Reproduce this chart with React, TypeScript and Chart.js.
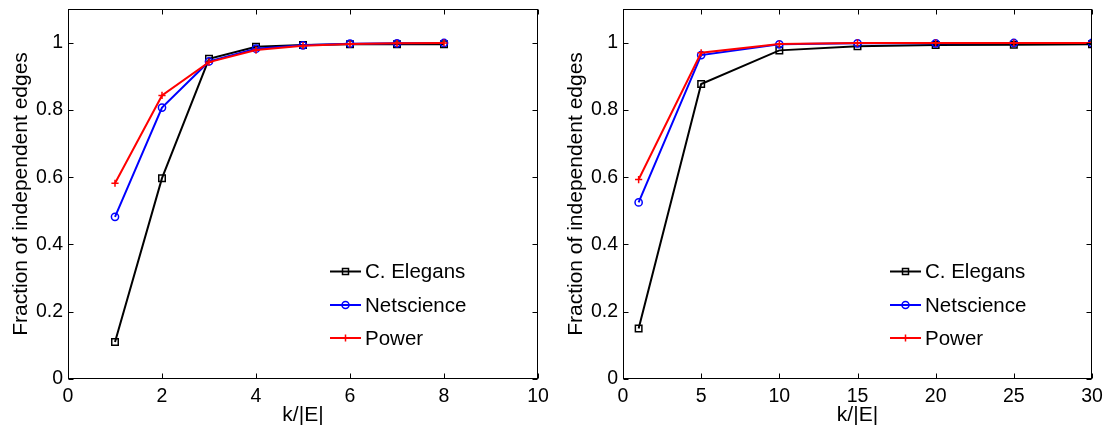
import React, { useEffect, useRef } from "react";
import { Chart, registerables } from "chart.js";

Chart.register(...registerables);

const SERIES_NAMES = ["C. Elegans", "Netscience", "Power"];
const SERIES_COLORS = ["#000000", "#0000ff", "#ff0000"];
const SERIES_MARKERS = ["rect", "circle", "cross"];

// Left panel
const LEFT_X = [1, 2, 3, 4, 5, 6, 7, 8];
const LEFT_ELEGANS = [0.11, 0.597, 0.952, 0.988, 0.993, 0.995, 0.995, 0.995];
const LEFT_NETSCIENCE = [0.482, 0.807, 0.944, 0.982, 0.992, 0.997, 0.998, 0.999];
const LEFT_POWER = [0.582, 0.843, 0.942, 0.978, 0.991, 0.996, 0.998, 0.999];
const LEFT_X_TICKS = [0, 2, 4, 6, 8, 10];

// Right panel
const RIGHT_X = [1, 5, 10, 15, 20, 25, 30];
const RIGHT_ELEGANS = [0.15, 0.877, 0.977, 0.989, 0.993, 0.994, 0.995];
const RIGHT_NETSCIENCE = [0.525, 0.963, 0.995, 0.998, 0.998, 0.999, 0.999];
const RIGHT_POWER = [0.593, 0.97, 0.996, 0.999, 0.999, 0.999, 0.999];
const RIGHT_X_TICKS = [0, 5, 10, 15, 20, 25, 30];

const Y_TICKS = [0, 0.2, 0.4, 0.6, 0.8, 1];
const Y_MAX = 1.1;

const X_TITLE = "k/|E|";
const Y_TITLE = "Fraction of independent edges";

const FONT = "'Liberation Sans', Arial, Helvetica, sans-serif";

const boxPlugin = {
  id: "matlabBox",
  afterDraw(chart: any, _args: any, opts: any) {
    const { ctx, chartArea } = chart;
    const { left, right, top, bottom } = chartArea;
    const xs = chart.scales.x;
    const ys = chart.scales.y;
    ctx.save();
    ctx.strokeStyle = "#000";
    ctx.lineWidth = 1;
    const L = Math.round(left) + 0.5;
    const R = Math.round(right) - 0.5;
    const T = Math.round(top) + 0.5;
    const B = Math.round(bottom) - 0.5;
    ctx.strokeRect(L, T, R - L, B - T);
    const tl = 5;
    ctx.beginPath();
    xs.ticks.forEach((t: any) => {
      const px = Math.round(xs.getPixelForValue(t.value)) + 0.5;
      ctx.moveTo(px, B);
      ctx.lineTo(px, B - tl);
      ctx.moveTo(px, T);
      ctx.lineTo(px, T + tl);
    });
    ys.ticks.forEach((t: any) => {
      const py = Math.round(ys.getPixelForValue(t.value)) + 0.5;
      ctx.moveTo(L, py);
      ctx.lineTo(L + tl, py);
      ctx.moveTo(R, py);
      ctx.lineTo(R - tl, py);
    });
    ctx.stroke();

    // legend inside axes
    const lx = opts.x as number;
    const rows = opts.rows as number[];
    chart.data.datasets.forEach((ds: any, i: number) => {
      const y = rows[i];
      ctx.strokeStyle = ds.borderColor;
      ctx.lineWidth = 2;
      ctx.beginPath();
      ctx.moveTo(lx, y);
      ctx.lineTo(lx + 31, y);
      ctx.stroke();
      const mx = lx + 15.5;
      ctx.lineWidth = 1.5;
      ctx.beginPath();
      if (ds.pointStyle === "rect") {
        ctx.rect(mx - 3, y - 3, 6, 6);
      } else if (ds.pointStyle === "circle") {
        ctx.arc(mx, y, 3.5, 0, Math.PI * 2);
      } else {
        ctx.moveTo(mx - 3.5, y);
        ctx.lineTo(mx + 3.5, y);
        ctx.moveTo(mx, y - 3.5);
        ctx.lineTo(mx, y + 3.5);
      }
      ctx.stroke();
      ctx.fillStyle = "#000";
      ctx.font = `20.5px ${FONT}`;
      ctx.textAlign = "left";
      ctx.textBaseline = "middle";
      ctx.fillText(ds.label, lx + 35, y + 1);
    });
    ctx.restore();
  },
};

function makeDatasets(xv: number[], series: number[][]) {
  return series.map((vals, i) => ({
    label: SERIES_NAMES[i],
    data: xv.map((x, j) => ({ x, y: vals[j] })),
    borderColor: SERIES_COLORS[i],
    backgroundColor: "rgba(0,0,0,0)",
    borderWidth: 2,
    pointStyle: SERIES_MARKERS[i],
    pointRadius: i === 0 ? 4.6 : 3.6,
    pointBorderWidth: 1.5,
    pointBackgroundColor: "rgba(0,0,0,0)",
    pointBorderColor: SERIES_COLORS[i],
    fill: false,
    tension: 0,
    order: 2 - i,
  }));
}

function Panel(props: {
  xv: number[];
  series: number[][];
  xTicks: number[];
  xMax: number;
  legendX: number;
  width: number;
}) {
  const ref = useRef<HTMLCanvasElement | null>(null);
  useEffect(() => {
    if (!ref.current) return;
    const { xv, series, xTicks, xMax, legendX } = props;
    const chart = new Chart(ref.current, {
      type: "line",
      data: { datasets: makeDatasets(xv, series) as any },
      options: {
        animation: false,
        responsive: false,
        events: [],
        layout: { padding: { top: 9, right: 17, left: 0, bottom: 0 } },
        plugins: {
          legend: { display: false },
          tooltip: { enabled: false },
          matlabBox: { x: legendX, rows: [271.5, 305, 338] },
        } as any,
        scales: {
          x: {
            type: "linear",
            min: 0,
            max: xMax,
            grid: { display: false, drawTicks: false },
            border: { display: false },
            afterBuildTicks: (s: any) => {
              s.ticks = xTicks.map((v) => ({ value: v }));
            },
            afterFit: (s: any) => {
              s.height = 49;
              s.paddingLeft = 0;
              s.paddingRight = 0;
              s.paddingTop = 0;
              s.paddingBottom = 0;
            },
            ticks: {
              color: "#000",
              padding: 6,
              maxRotation: 0,
              autoSkip: false,
              font: { family: FONT, size: 19.5 },
            },
            title: {
              display: true,
              text: X_TITLE,
              color: "#000",
              font: { family: FONT, size: 21, lineHeight: 1.2 },
              padding: { top: 0, bottom: 0 },
            },
          },
          y: {
            type: "linear",
            min: 0,
            max: Y_MAX,
            grid: { display: false, drawTicks: false },
            border: { display: false },
            afterBuildTicks: (s: any) => {
              s.ticks = Y_TICKS.map((v) => ({ value: v }));
            },
            afterFit: (s: any) => {
              s.width = 68;
              s.paddingLeft = 0;
              s.paddingRight = 0;
              s.paddingTop = 0;
              s.paddingBottom = 0;
            },
            ticks: {
              color: "#000",
              padding: 5,
              autoSkip: false,
              font: { family: FONT, size: 19.5 },
              callback: (v: any) => String(Math.round(Number(v) * 10) / 10),
            },
            title: {
              display: true,
              text: Y_TITLE,
              color: "#000",
              font: { family: FONT, size: 21, lineHeight: 1.2 },
              padding: { top: 9, bottom: 0 },
            },
          },
        },
      },
      plugins: [boxPlugin as any],
    });
    return () => chart.destroy();
  }, []);
  return (
    <div style={{ width: props.width, height: 428, position: "relative" }}>
      <canvas ref={ref} width={props.width} height={428} style={{ display: "block" }} />
    </div>
  );
}

export default function App() {
  return (
    <div
      style={{
        position: "fixed",
        left: 0,
        top: 0,
        width: 1109,
        height: 428,
        display: "flex",
        background: "#fff",
      }}
    >
      <Panel
        xv={LEFT_X}
        series={[LEFT_ELEGANS, LEFT_NETSCIENCE, LEFT_POWER]}
        xTicks={LEFT_X_TICKS}
        xMax={10}
        legendX={330}
        width={555}
      />
      <Panel
        xv={RIGHT_X}
        series={[RIGHT_ELEGANS, RIGHT_NETSCIENCE, RIGHT_POWER]}
        xTicks={RIGHT_X_TICKS}
        xMax={30}
        legendX={335}
        width={554}
      />
    </div>
  );
}
